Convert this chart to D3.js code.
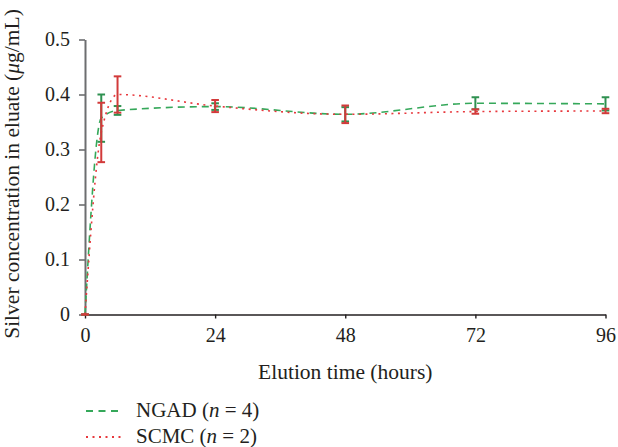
<!DOCTYPE html>
<html>
<head>
<meta charset="utf-8">
<script src="https://cdn.jsdelivr.net/npm/d3@7"></script>
<style>
  html, body { margin: 0; padding: 0; background: #fff; }
  svg { display: block; }
  svg text { font-family: "Liberation Serif", "DejaVu Serif", serif !important; fill: #231f20; }
</style>
</head>
<body>
<svg id="chart" width="618" height="447"></svg>
<script>
// Elution time points (hours)
const hours = [0, 3, 6, 24, 48, 72, 96];
// NGAD (n = 4): mean silver concentration and error (µg/mL)
const ngadMean = [0, 0.357, 0.371, 0.378, 0.364, 0.384, 0.383];
const ngadErr  = [0, 0.043, 0.008, 0.006, 0.013, 0.011, 0.012];
// SCMC (n = 2): mean silver concentration and error (µg/mL)
const scmcMean = [0, 0.331, 0.400, 0.379, 0.364, 0.369, 0.370];
const scmcErr  = [0, 0.054, 0.033, 0.011, 0.016, 0.004, 0.004];
// Axis ticks
const xTicks = [0, 24, 48, 72, 96];
const yTicks = [0, 0.1, 0.2, 0.3, 0.4, 0.5];

const serif = "'Liberation Serif', 'DejaVu Serif', serif";
const svg = d3.select("#chart");

const x = d3.scaleLinear().domain([0, 96]).range([85, 605.5]);
const y = d3.scaleLinear().domain([0, 0.5]).range([314.5, 39.5]);

const green = "#35a85a";
const greenBar = "#2f9150";
const red = "#e8383d";
const redBar = "#d23a3a";

// Y axis
const yAxis = svg.append("g")
  .attr("transform", `translate(${x(0)},0)`)
  .call(d3.axisLeft(y).tickValues(yTicks).tickFormat(d => d === 0 ? "0" : d3.format(".1f")(d))
        .tickSize(6).tickPadding(9).tickSizeOuter(0));
yAxis.attr("font-family", serif);
yAxis.select(".domain").attr("stroke", "#6d6e70").attr("stroke-width", 2);
yAxis.selectAll(".tick line").attr("stroke", "#6d6e70").attr("stroke-width", 1.6);
yAxis.selectAll(".tick text").attr("font-size", 20).attr("fill", "#231f20");

// X axis
const xAxis = svg.append("g")
  .attr("transform", `translate(0,${y(0)})`)
  .call(d3.axisBottom(x).tickValues(xTicks).tickSize(4).tickPadding(9).tickSizeOuter(0));
xAxis.attr("font-family", serif);
xAxis.select(".domain").attr("stroke", "#231f20").attr("stroke-width", 1.6);
xAxis.selectAll(".tick line").attr("stroke", "#231f20").attr("stroke-width", 1.4);
xAxis.selectAll(".tick text").attr("font-size", 20).attr("fill", "#231f20");

// Axis titles
svg.append("text")
  .attr("x", (x(0) + x(96)) / 2).attr("y", 379)
  .attr("text-anchor", "middle").attr("font-size", 21.5).attr("font-family", serif)
  .text("Elution time (hours)");

const yTitle = svg.append("text")
  .attr("transform", `translate(19,${(y(0) + y(0.5)) / 2 - 3}) rotate(-90)`)
  .attr("text-anchor", "middle").attr("font-size", 21.5).attr("font-family", serif);
yTitle.append("tspan").text("Silver concentration in eluate (");
yTitle.append("tspan").attr("font-style", "italic").text("μ");
yTitle.append("tspan").text("g/mL)");

// Smoothed series lines
const line = d3.line().x((d, i) => x(hours[i])).y(d => y(d)).curve(d3.curveMonotoneX);

function drawSeries(mean, err, color, barColor, dash) {
  svg.append("path")
    .attr("d", line(mean))
    .attr("fill", "none").attr("stroke", color).attr("stroke-width", 1.6)
    .attr("stroke-dasharray", dash);

  const g = svg.append("g").attr("stroke", barColor).attr("stroke-width", 2);
  hours.forEach((h, i) => {
    const cx = x(h), top = y(mean[i] + err[i]), bot = y(mean[i] - err[i]);
    g.append("line").attr("x1", cx).attr("x2", cx).attr("y1", top).attr("y2", bot);
    g.append("line").attr("x1", cx - 3.8).attr("x2", cx + 3.8).attr("y1", top).attr("y2", top);
    g.append("line").attr("x1", cx - 3.8).attr("x2", cx + 3.8).attr("y1", bot).attr("y2", bot);
  });
}

drawSeries(ngadMean, ngadErr, green, greenBar, "7,5");
drawSeries(scmcMean, scmcErr, red, redBar, "2,4.5");

// Legend
const legend = [
  { name: "NGAD", n: "4", color: green, dash: "7,5.5", y: 411 },
  { name: "SCMC", n: "2", color: red, dash: "2,4.5", y: 437 }
];
legend.forEach(l => {
  svg.append("line")
    .attr("x1", 86).attr("x2", 122).attr("y1", l.y).attr("y2", l.y)
    .attr("stroke", l.color).attr("stroke-width", 1.8).attr("stroke-dasharray", l.dash);
  const t = svg.append("text").attr("x", 136).attr("y", l.y + 6)
    .attr("font-size", 21).attr("font-family", serif);
  t.append("tspan").text(l.name + " (");
  t.append("tspan").attr("font-style", "italic").text("n");
  t.append("tspan").text(" = " + l.n + ")");
});
</script>
</body>
</html>
